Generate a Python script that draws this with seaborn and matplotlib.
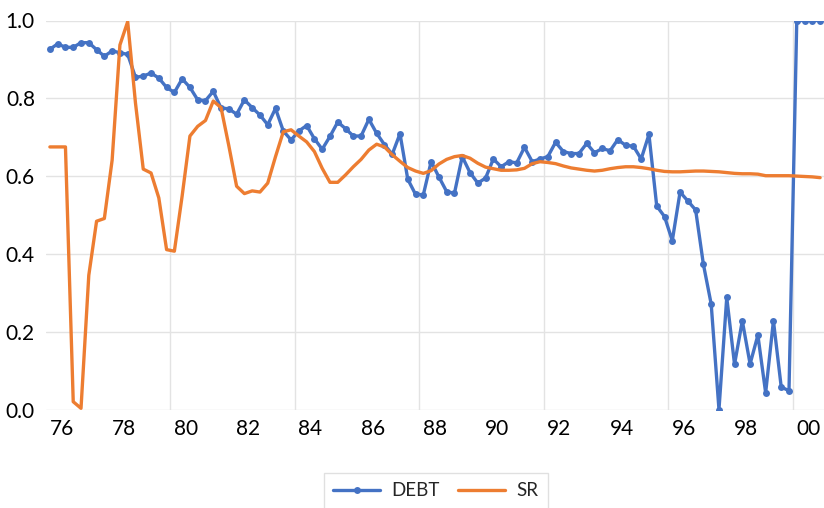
import numpy as np
import pandas as pd
import seaborn as sns
import matplotlib.pyplot as plt

# quarterly observations, 1975Q3 .. 2000Q2
quarters = pd.period_range("1975Q3", periods=100, freq="Q").astype(str)

debt = [0.926, 0.940, 0.931, 0.931, 0.943, 0.943, 0.925, 0.908, 0.922, 0.917,
        0.913, 0.854, 0.857, 0.865, 0.852, 0.828, 0.815, 0.850, 0.828, 0.796,
        0.794, 0.818, 0.775, 0.773, 0.759, 0.796, 0.776, 0.757, 0.732, 0.774,
        0.716, 0.693, 0.716, 0.730, 0.696, 0.669, 0.702, 0.739, 0.722, 0.703,
        0.703, 0.746, 0.710, 0.681, 0.656, 0.709, 0.592, 0.553, 0.552, 0.637,
        0.598, 0.560, 0.556, 0.650, 0.609, 0.582, 0.595, 0.644, 0.624, 0.637,
        0.634, 0.674, 0.637, 0.644, 0.650, 0.687, 0.663, 0.658, 0.658, 0.684,
        0.660, 0.671, 0.665, 0.694, 0.679, 0.677, 0.644, 0.707, 0.523, 0.496,
        0.434, 0.559, 0.536, 0.513, 0.373, 0.271, 0.000, 0.288, 0.116, 0.228,
        0.117, 0.191, 0.043, 0.228, 0.058, 0.048, 1.000, 1.000, 1.000, 1.000]

sr = [0.675, 0.675, 0.675, 0.020, 0.003, 0.345, 0.484, 0.491, 0.641, 0.937,
      0.997, 0.788, 0.618, 0.608, 0.544, 0.411, 0.407, 0.549, 0.703, 0.728,
      0.743, 0.793, 0.776, 0.678, 0.574, 0.555, 0.562, 0.559, 0.582, 0.650,
      0.714, 0.719, 0.703, 0.688, 0.663, 0.620, 0.584, 0.584, 0.603, 0.624,
      0.643, 0.667, 0.682, 0.675, 0.655, 0.638, 0.622, 0.613, 0.607, 0.614,
      0.631, 0.643, 0.650, 0.653, 0.646, 0.633, 0.623, 0.619, 0.615, 0.615,
      0.616, 0.620, 0.632, 0.637, 0.635, 0.632, 0.626, 0.621, 0.618, 0.615,
      0.613, 0.615, 0.619, 0.622, 0.624, 0.624, 0.622, 0.619, 0.615, 0.612,
      0.611, 0.611, 0.612, 0.613, 0.613, 0.612, 0.611, 0.609, 0.607, 0.606,
      0.606, 0.605, 0.601, 0.601, 0.601, 0.601, 0.600, 0.599, 0.598, 0.596]

tick_labels = ["76", "78", "80", "82", "84", "86", "88", "90", "92", "94", "96", "98", "00"]

df = pd.DataFrame({"quarter": quarters, "DEBT": debt, "SR": sr})
df["pos"] = np.arange(len(df))

sns.set_theme(style="white")
plt.rcParams["font.family"] = ["Lato", "DejaVu Sans"]

fig = plt.figure(figsize=(8.24, 5.08), dpi=100)
ax = fig.add_axes([46 / 824, 98.5 / 508, 778 / 824, 389 / 508])

sns.lineplot(data=df, x="pos", y="DEBT", ax=ax, color="#4472C4", linewidth=2.4,
             marker="o", markersize=5, markeredgewidth=0, label="DEBT")
sns.lineplot(data=df, x="pos", y="SR", ax=ax, color="#ED7D31", linewidth=2.4,
             label="SR")

ax.set_xlim(-0.5, 99.5)
ax.set_ylim(0, 1)
ax.set_xticks(np.arange(1.5, 100, 8))
ax.set_xticklabels(tick_labels)
ax.set_xticks(np.arange(15.5, 100, 16), minor=True)
ax.set_yticks([0, 0.2, 0.4, 0.6, 0.8, 1.0])
ax.set_yticklabels(["0.0", "0.2", "0.4", "0.6", "0.8", "1.0"])
ax.grid(False)
ax.grid(axis="x", which="minor", color="#e3e3e3", linewidth=1)
ax.grid(axis="y", which="major", color="#e3e3e3", linewidth=1)
ax.tick_params(axis="both", which="both", length=0, labelsize=15, colors="black")
ax.tick_params(axis="y", pad=8)
ax.tick_params(axis="x", pad=7)
ax.set_xlabel("")
ax.set_ylabel("")
for s in ax.spines.values():
    s.set_visible(False)

handles, labels = ax.get_legend_handles_labels()
ax.legend_.remove()
leg = fig.legend(handles, labels, loc="upper center", bbox_to_anchor=(0.529, 1 - 473 / 508),
                 ncol=2, fontsize=13.5, frameon=True, fancybox=False, edgecolor="#d9d9d9",
                 handlelength=2.5, handletextpad=0.6, columnspacing=1.0, borderpad=0.5,
                 borderaxespad=0)
leg.get_frame().set_linewidth(1)

fig.savefig("out.png", dpi=100)
